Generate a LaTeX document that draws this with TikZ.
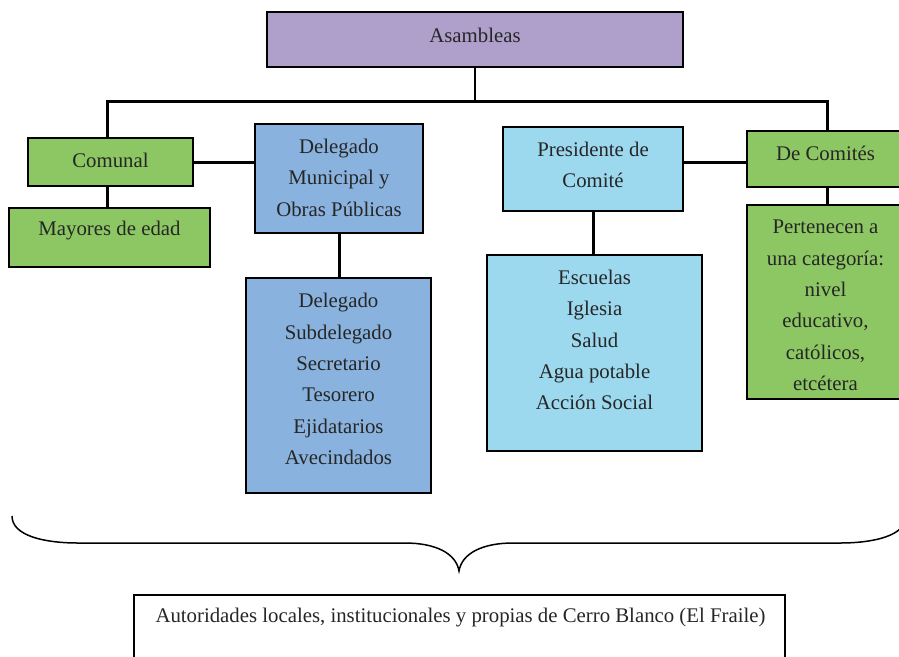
\documentclass[tikz,border=0pt]{standalone}
\usepackage{fontspec}
\setmainfont{Liberation Serif}
\definecolor{cpurple}{HTML}{AFA0CB}
\definecolor{cgreen}{HTML}{8DC764}
\definecolor{cblue}{HTML}{89B3DE}
\definecolor{clblue}{HTML}{9CD9EE}
\definecolor{ctext}{HTML}{262626}
\begin{document}
\begin{tikzpicture}[x=1pt,y=-1pt,
  box/.style={draw=black, line width=2pt, fill=#1, inner sep=0pt, outer sep=0pt},
  lbl/.style={inner sep=0pt, text=ctext, align=center, font=\fontsize{20.8}{31.4}\selectfont},
  conn/.style={draw=black, line width=3pt},
  stem/.style={draw=black, line width=1.6pt},
  bracestyle/.style={draw=black, line width=1.5pt}]
\useasboundingbox (0,0) rectangle (899,656);
\clip (0,0) rectangle (899,656);
% boxes
\node[box=cpurple, minimum width=416pt, minimum height=55pt] (asam) at (475,39.5) {};
\node[box=cgreen, minimum width=165pt, minimum height=48pt] (comunal) at (110.5,162) {};
\node[box=cgreen, minimum width=201pt, minimum height=59pt] (mayores) at (109.5,237.5) {};
\node[box=cblue, minimum width=168pt, minimum height=109pt] (delmun) at (339,178.5) {};
\node[box=cblue, minimum width=185pt, minimum height=215pt] (dellist) at (338.5,385.5) {};
\node[box=clblue, minimum width=180pt, minimum height=84pt] (pres) at (593,169) {};
\node[box=clblue, minimum width=215pt, minimum height=196pt] (esc) at (594.5,353) {};
\node[box=cgreen, minimum width=158pt, minimum height=56pt] (decom) at (826,159) {};
\node[box=cgreen, minimum width=158pt, minimum height=194pt] (pert) at (826,302) {};
\node[box=white, minimum width=651pt, minimum height=80pt] (autor) at (459.5,635) {};
% texts
\node[lbl] (asamT) at (475,35) {Asambleas};
\node[lbl] (comunalT) at (110.5,160.5) {Comunal};
\node[lbl] (mayoresT) at (109.5,231) {Mayores de edad};
\node[lbl] (delmunT) at (339,177.5) {Delegado\\Municipal y\\Obras Públicas};
\node[lbl] (dellistT) at (338.5,379) {Delegado\\Subdelegado\\Secretario\\Tesorero\\Ejidatarios\\Avecindados};
\node[lbl] (presT) at (593,165) {Presidente de\\Comité};
\node[lbl] (escT) at (594.5,340) {Escuelas\\Iglesia\\Salud\\Agua potable\\Acción Social};
\node[lbl] (decomT) at (825.5,153.5) {De Comités};
\node[lbl] (pertT) at (825.5,305.5) {Pertenecen a\\una categoría:\\nivel\\educativo,\\católicos,\\etcétera};
\node[lbl] (autorT) at (460.5,617.5) {Autoridades locales, institucionales y propias de Cerro Blanco (El Fraile)};
% connectors
\coordinate (busL) at (107,101);
\coordinate (busR) at (827,101);
\draw[stem] (asam.south) -- (asam.south |- busL);
\draw[conn] (busL |- comunal.north) -- (busL) -- (busR) -- (busR |- decom.north);
\draw[conn] (busL |- comunal.south) -- (busL |- mayores.north);
\draw[conn] (comunal.east) -- (comunal.east -| delmun.west);
\draw[conn] (delmun.south) -- (delmun.south |- dellist.north);
\draw[conn] (pres.south) -- (pres.south |- esc.north);
\draw[conn] ([yshift=-3pt]decom.west -| pres.east) -- ([yshift=-3pt]decom.west);
\draw[conn] (busR |- decom.south) -- (busR |- pert.north);
% brace
\coordinate (brL) at (12,516);
\coordinate (brTip) at (459,571);
\coordinate (brR) at (906,516);
\draw[bracestyle] (brL) .. controls (12,536) and (45,543) .. (78,543) -- (405,543)
  .. controls (435,543) and (456,553) .. (brTip)
  .. controls (462,553) and (483,543) .. (513,543) -- (840,543)
  .. controls (873,543) and (906,536) .. (brR);
\end{tikzpicture}
\end{document}
